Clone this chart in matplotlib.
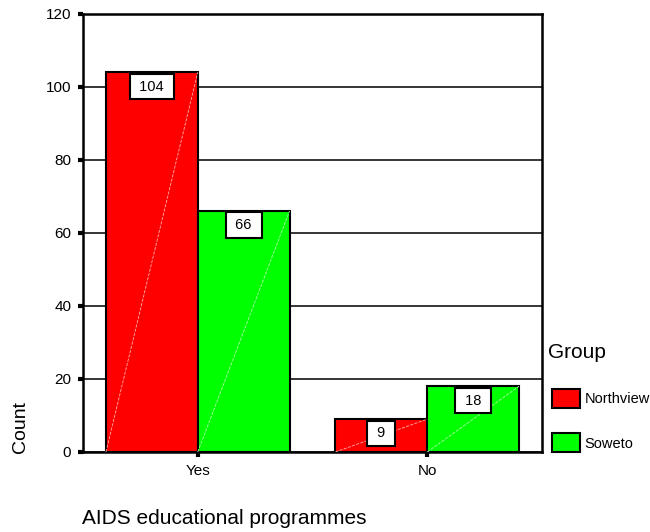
import matplotlib.pyplot as plt
import numpy as np

plt.rcParams['font.family'] = ['Liberation Sans', 'DejaVu Sans']

categories = ["Yes", "No"]
groups = ["Northview", "Soweto"]
northview = [104, 9]
soweto = [66, 18]
colors = ["#ff0000", "#00ff00"]
streak = ["#ffb0b0", "#b0ffb0"]

fig = plt.figure(figsize=(6.5, 5.32), dpi=100)
ax = fig.add_axes([0.1277, 0.1504, 0.7061, 0.8233])

x = np.arange(len(categories))
w = 0.4
handles = []
for i, (vals, col) in enumerate(zip([northview, soweto], colors)):
    pos = x - w / 2 + i * w
    bars = ax.bar(pos, vals, width=w, color=col, edgecolor="black",
                  linewidth=1.5, zorder=3, label=groups[i])
    handles.append(bars)
    for b, v in zip(bars, vals):
        x0 = b.get_x()
        # faint diagonal streak like the original export
        ax.plot([x0, x0 + w], [0, v], color=streak[i], lw=0.6, ls="--",
                zorder=4)
        ax.annotate(" %d " % v, (x0 + w / 2, v), xytext=(0, -5.2),
                    textcoords="offset points", ha="center", va="top",
                    fontsize=10.5, zorder=6,
                    bbox=dict(boxstyle="square,pad=0.4", fc="white",
                              ec="black", lw=1.5))

ax.set_xlim(-0.5, 1.5)
ax.set_ylim(0, 120)
ax.set_yticks(np.arange(0, 121, 20))
ax.set_xticks(x)
ax.set_xticklabels(categories)
ax.yaxis.grid(True, color="black", lw=1.1, zorder=0)
ax.set_axisbelow(True)
ax.tick_params(axis="both", direction="out", length=3.5, width=3,
               labelsize=11)
ax.tick_params(axis="y", pad=5)
ax.tick_params(axis="x", pad=5)
for s in ax.spines.values():
    s.set_linewidth(1.8)

fig.text(0.031, 0.197, "Count", rotation=90, ha="center", va="center",
         fontsize=14)
fig.text(0.126, 0.026, "AIDS educational programmes", ha="left",
         va="center", fontsize=15)

# legend title drawn separately so the gap to the entries matches
fig.text(0.843, 0.327, "Group", ha="left", va="baseline", fontsize=15)
leg = fig.legend(handles=handles, labels=groups,
                 loc="upper left", bbox_to_anchor=(0.849, 0.269),
                 frameon=False, fontsize=10.5,
                 handlelength=1.95, handleheight=1.65, labelspacing=1.72,
                 handletextpad=0.3, borderaxespad=0, borderpad=0)

fig.savefig("out.png", dpi=100)
